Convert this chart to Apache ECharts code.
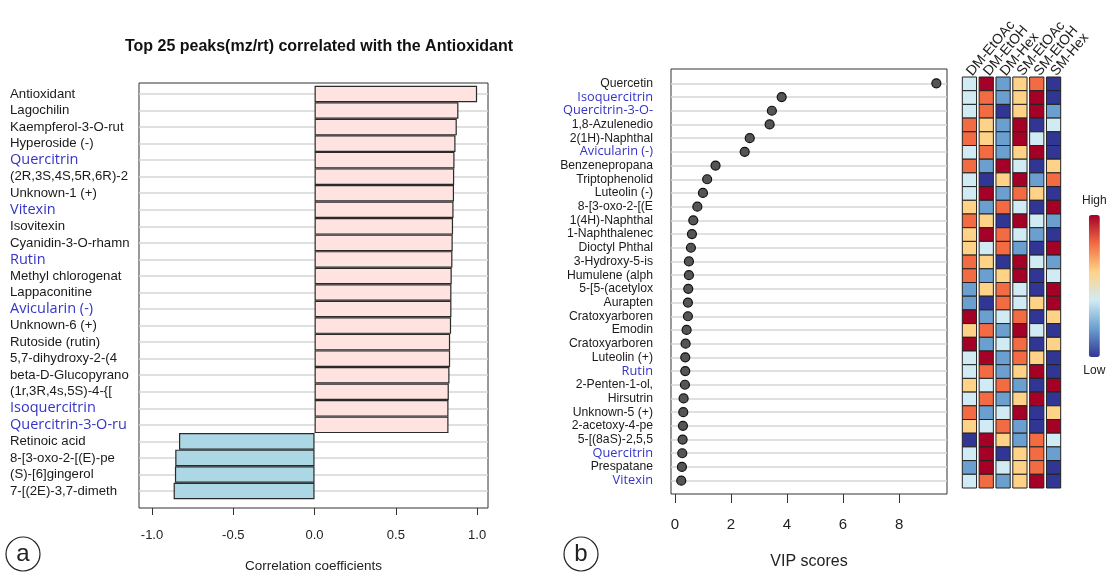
<!DOCTYPE html>
<html>
<head>
<meta charset="utf-8">
<script src="https://cdn.jsdelivr.net/npm/echarts@6/dist/echarts.min.js"></script>
<style>html,body{margin:0;padding:0;background:#fff;}#c{width:1107px;height:572px;}</style>
</head>
<body>
<div id="c"></div>
<script>
// ---------- DATA ----------
const corrNames = ["Antioxidant","Lagochilin","Kaempferol-3-O-rut","Hyperoside (-)","Quercitrin","(2R,3S,4S,5R,6R)-2","Unknown-1 (+)","Vitexin","Isovitexin","Cyanidin-3-O-rhamn","Rutin","Methyl chlorogenat","Lappaconitine","Avicularin (-)","Unknown-6 (+)","Rutoside (rutin)","5,7-dihydroxy-2-(4","beta-D-Glucopyrano","(1r,3R,4s,5S)-4-{[","Isoquercitrin","Quercitrin-3-O-ru","Retinoic acid","8-[3-oxo-2-[(E)-pe","(S)-[6]gingerol","7-[(2E)-3,7-dimeth"];
const corrValues = [1.0,0.885,0.875,0.867,0.861,0.859,0.858,0.855,0.852,0.850,0.848,0.844,0.842,0.842,0.840,0.834,0.834,0.830,0.826,0.824,0.824,-0.834,-0.857,-0.859,-0.867];
const corrTicks = [-1.0,-0.5,0.0,0.5,1.0];

const vipNames = ["Quercetin","Isoquercitrin","Quercitrin-3-O-","1,8-Azulenedio","2(1H)-Naphthal","Avicularin (-)","Benzenepropana","Triptophenolid","Luteolin (-)","8-[3-oxo-2-[(E","1(4H)-Naphthal","1-Naphthalenec","Dioctyl Phthal","3-Hydroxy-5-is","Humulene (alph","5-[5-(acetylox","Aurapten","Cratoxyarboren","Emodin","Cratoxyarboren","Luteolin (+)","Rutin","2-Penten-1-ol,","Hirsutrin","Unknown-5 (+)","2-acetoxy-4-pe","5-[(8aS)-2,5,5","Quercitrin","Prespatane","Vitexin"];
const vipScores = [9.33,3.81,3.46,3.38,2.67,2.49,1.45,1.15,1.00,0.80,0.655,0.607,0.571,0.50,0.50,0.476,0.464,0.464,0.417,0.381,0.369,0.369,0.357,0.31,0.298,0.286,0.274,0.262,0.25,0.226];
const vipTicks = [0,2,4,6,8];

const highlighted = ["Quercitrin","Vitexin","Rutin","Avicularin (-)","Isoquercitrin","Quercitrin-3-O-ru","Quercitrin-3-O-"];

const sampleGroups = ["DM-EtOAc","DM-EtOH","DM-Hex","SM-EtOAc","SM-EtOH","SM-Hex"];
// relative level per row (1 = Low ... 6 = High)
const heatLevels = [
 [3,6,2,4,5,1],[3,5,2,4,6,1],[3,5,1,4,6,2],[5,4,2,6,1,3],[5,4,2,6,3,1],
 [3,5,2,4,6,1],[5,2,6,3,1,4],[3,1,4,6,2,5],[3,6,2,5,4,1],[4,2,5,3,1,6],
 [5,4,1,6,3,2],[4,6,5,3,2,1],[4,3,5,2,1,6],[5,4,1,6,3,2],[5,2,4,6,1,3],
 [2,4,5,3,1,6],[2,1,5,3,4,6],[6,2,3,5,1,4],[4,5,2,6,3,1],[6,2,3,5,1,4],
 [3,6,2,5,4,1],[3,5,2,4,6,1],[4,3,5,2,1,6],[3,5,2,4,6,1],[5,2,3,6,1,4],
 [4,3,5,2,1,6],[1,6,4,2,5,3],[3,6,1,4,5,2],[2,6,3,4,5,1],[3,5,2,4,6,1]
];
const legendText = ["High","Low"];

// ---------- CHART ----------
const FONT = "'Liberation Sans', Arial, sans-serif";
const FONT2 = "'Open Sans', 'Liberation Sans', sans-serif";
const heatData = [];
heatLevels.forEach((row, r) => row.forEach((v, c) => heatData.push([c, r, v])));

function labelFmt(v){ return highlighted.indexOf(v) >= 0 ? '{b|' + v + '}' : '{n|' + v + '}'; }

const chart = echarts.init(document.getElementById('c'), null, {renderer:'canvas'});
chart.setOption({
  animation: false,
  backgroundColor: '#ffffff',
  textStyle: {fontFamily: FONT},
  title: {
    text: 'Top 25 peaks(mz/rt) correlated with the Antioxidant',
    left: 314, top: 34, textAlign: 'center',
    textStyle: {fontFamily: FONT, fontSize: 16, fontWeight: 'bold', color: '#111'}
  },
  grid: [
    {left: 139, top: 83, width: 349, height: 425, show: true, borderColor: '#333', borderWidth: 1, backgroundColor: 'transparent', outerBoundsMode: 'none', containLabel: false},
    {left: 139, top: 85.7, width: 349, height: 413.6, show: false, outerBoundsMode: 'none', containLabel: false},
    {left: 671, top: 69, width: 276, height: 425, show: true, borderColor: '#333', borderWidth: 1, backgroundColor: 'transparent', outerBoundsMode: 'none', containLabel: false},
    {left: 671, top: 76.5, width: 276, height: 411, show: false, outerBoundsMode: 'none', containLabel: false},
    {left: 961, top: 77, width: 101, height: 411, show: false, outerBoundsMode: 'none', containLabel: false}
  ],
  xAxis: [
    {gridIndex: 0, type: 'value', min: -1.08, max: 1.067,
     axisLine: {show: false}, splitLine: {show: false},
     axisTick: {show: true, length: 7, customValues: corrTicks, lineStyle: {color: '#333'}},
     axisLabel: {customValues: corrTicks, margin: 21, fontSize: 13, color: '#222', formatter: v => v.toFixed(1)},
     name: 'Correlation coefficients', nameLocation: 'middle', nameGap: 51,
     nameTextStyle: {fontSize: 13.5, color: '#222'}},
    {gridIndex: 1, type: 'value', min: -1.08, max: 1.067, show: false},
    {gridIndex: 2, type: 'value', min: -0.14, max: 9.71,
     axisLine: {show: false}, splitLine: {show: false},
     axisTick: {show: true, length: 9, customValues: vipTicks, lineStyle: {color: '#333'}},
     axisLabel: {customValues: vipTicks, margin: 23, fontSize: 15, color: '#222'},
     name: 'VIP scores', nameLocation: 'middle', nameGap: 60,
     nameTextStyle: {fontSize: 16, color: '#222'}},
    {gridIndex: 3, type: 'value', min: -0.14, max: 9.71, show: false},
    {gridIndex: 4, type: 'category', data: sampleGroups, position: 'top',
     axisLine: {show: false}, axisTick: {show: false}, splitLine: {show: false},
     axisLabel: {rotate: -50, align: 'left', interval: 0, margin: 3, fontSize: 14, color: '#222'}}
  ],
  yAxis: [
    {gridIndex: 0, type: 'value', min: 0, max: 1, show: false},
    {gridIndex: 1, type: 'category', data: corrNames, inverse: true,
     axisLine: {show: false}, axisTick: {show: false}, splitLine: {show: false},
     axisLabel: {interval: 0, align: 'left', margin: 129, formatter: labelFmt,
       rich: {n: {fontSize: 13.2, color: '#1a1a1a', fontFamily: FONT},
              b: {fontSize: 14.5, color: '#3434c8', fontFamily: FONT2}}}},
    {gridIndex: 2, type: 'value', min: 0, max: 1, show: false},
    {gridIndex: 3, type: 'category', data: vipNames, inverse: true,
     axisLine: {show: false}, axisTick: {show: false}, splitLine: {show: false},
     axisLabel: {interval: 0, align: 'right', margin: 18, formatter: labelFmt,
       rich: {n: {fontSize: 12.2, color: '#1a1a1a', fontFamily: FONT},
              b: {fontSize: 12.8, color: '#3434c8', fontFamily: FONT2}}}},
    {gridIndex: 4, type: 'category', data: vipNames, inverse: true, show: false}
  ],
  visualMap: {
    type: 'continuous', min: 1, max: 6, dimension: 2, seriesIndex: 4,
    orient: 'vertical', left: 1067, top: 180, itemWidth: 11, itemHeight: 142,
    text: legendText, textGap: 8, calculable: false, hoverLink: false,
    textStyle: {fontSize: 12, color: '#222', fontFamily: FONT},
    inRange: {color: ['#313695','#6a9fcf','#d1ebf4','#fed387','#f26b43','#a50026']}
  },
  series: [
    {type: 'line', xAxisIndex: 1, yAxisIndex: 1, data: [], z: 1,
     markLine: {silent: true, symbol: 'none', z: 1, label: {show: false},
       lineStyle: {color: '#d6d6d6', width: 1.5, type: 'solid'},
       data: corrNames.map(n => ({yAxis: n}))}},
    {type: 'bar', xAxisIndex: 1, yAxisIndex: 1, z: 3, barCategoryGap: '0%',
     data: corrValues.map(v => ({value: v, itemStyle: {color: v >= 0 ? '#ffe3e0' : '#acd8e6'}})),
     itemStyle: {borderColor: '#2a2a2a', borderWidth: 1.2}},
    {type: 'line', xAxisIndex: 3, yAxisIndex: 3, data: [], z: 1,
     markLine: {silent: true, symbol: 'none', z: 1, label: {show: false},
       lineStyle: {color: '#d6d6d6', width: 1.5, type: 'solid'},
       data: vipNames.map((n, i) => ({yAxis: i}))}},
    {type: 'scatter', xAxisIndex: 3, yAxisIndex: 3, z: 3, symbolSize: 9,
     data: vipScores.map((v, i) => [v, i]),
     itemStyle: {color: '#555555', borderColor: '#111', borderWidth: 1.2, opacity: 1}},
    {type: 'custom', xAxisIndex: 4, yAxisIndex: 4, data: heatData,
     encode: {x: 0, y: 1},
     renderItem: function (params, api) {
       const c = api.coord([api.value(0), api.value(1)]);
       const s = api.size([1, 1]);
       return {type: 'rect',
         shape: {x: c[0] - s[0] / 2 + 1.3, y: c[1] - s[1] / 2, width: s[0] - 2.6, height: s[1]},
         style: {fill: api.visual('color'), stroke: '#222', lineWidth: 1}};
     }}
  ],
  graphic: [
    {type: 'circle', shape: {cx: 23, cy: 554, r: 17}, style: {fill: 'none', stroke: '#222', lineWidth: 1.2}},
    {type: 'text', x: 23, y: 554, style: {text: 'a', font: "24px 'Liberation Sans'", fill: '#222', align: 'center', verticalAlign: 'middle'}},
    {type: 'circle', shape: {cx: 581, cy: 554, r: 17}, style: {fill: 'none', stroke: '#222', lineWidth: 1.2}},
    {type: 'text', x: 581, y: 554, style: {text: 'b', font: "24px 'Liberation Sans'", fill: '#222', align: 'center', verticalAlign: 'middle'}}
  ]
});
</script>
</body>
</html>
